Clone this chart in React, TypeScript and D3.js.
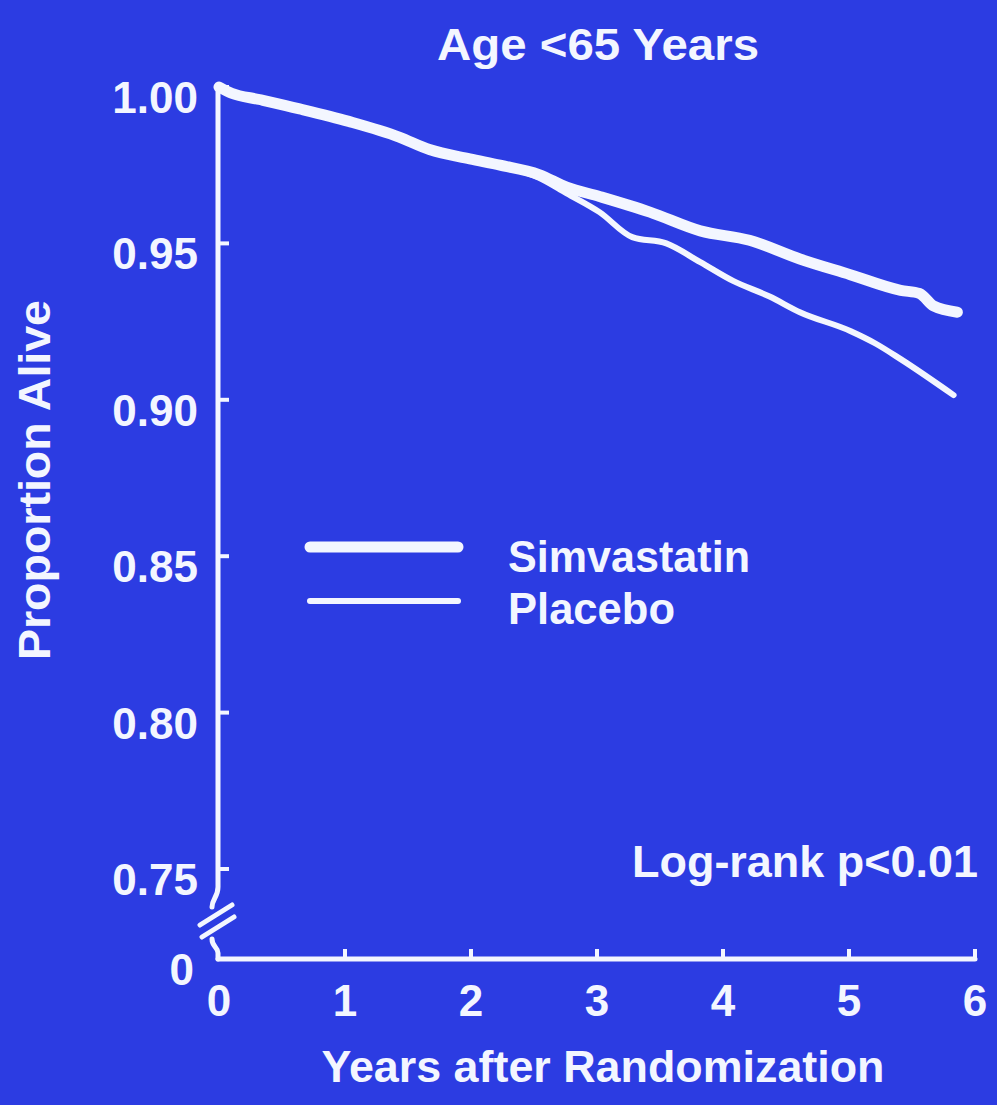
import * as d3 from "d3";
import React from "react";

const width = 997;
const height = 1105;

// Kaplan-Meier style readings (years, proportion alive)
const simvastatinYears = [0, 0.1, 0.32, 0.64, 1.03, 1.43, 1.67, 1.99, 2.23, 2.54, 2.76, 3.02, 3.42, 3.82, 4.21, 4.61, 5.01, 5.41, 5.56, 5.67, 5.86];
const simvastatinValues = [1.0, 0.998, 0.996, 0.993, 0.989, 0.984, 0.98, 0.977, 0.975, 0.972, 0.968, 0.965, 0.96, 0.954, 0.951, 0.945, 0.94, 0.935, 0.934, 0.93, 0.928];

const placeboYears = [0, 0.1, 0.32, 0.64, 1.03, 1.43, 1.67, 1.99, 2.23, 2.54, 2.76, 3.02, 3.28, 3.55, 3.82, 4.08, 4.37, 4.61, 5.01, 5.21, 5.41, 5.83];
const placeboValues = [1.0, 0.998, 0.996, 0.993, 0.989, 0.984, 0.98, 0.977, 0.975, 0.971, 0.966, 0.96, 0.952, 0.95, 0.944, 0.938, 0.933, 0.928, 0.922, 0.918, 0.913, 0.9015];

const yTicks = [1.0, 0.95, 0.9, 0.85, 0.8, 0.75];
const xTicks = [0, 1, 2, 3, 4, 5, 6];

const bg = "#2c3ce2";
const ink = "#f3f6ff";
const font = "'Liberation Sans', Arial, Helvetica, sans-serif";

function App() {
    const xScale = d3.scaleLinear().domain([0, 6]).range([219, 975]);
    // broken axis: 0 sits just under 0.75
    const yScale = d3.scaleLinear().domain([0, 0.75, 1.0]).range([959, 869, 87]);

    const lineBuilder = d3.line<[number, number]>()
        .x((d) => xScale(d[0]))
        .y((d) => yScale(d[1]))
        .curve(d3.curveMonotoneX);

    const simPath = lineBuilder(simvastatinYears.map((t, i) => [t, simvastatinValues[i]]));
    const plaPath = lineBuilder(placeboYears.map((t, i) => [t, placeboValues[i]]));

    const ax = xScale(0) - 1;
    const y0 = yScale(0);
    const y75 = yScale(0.75);

    const breakPath = [
        `M${ax},${yScale(1.0) - 2} L${ax},${y75 + 18}`,
        `C${ax},${y75 + 28} ${ax - 6},${y75 + 30} ${ax - 6},${y75 + 38}`,
        `M${ax - 18},${y75 + 56} L${ax + 14},${y75 + 36}`,
        `M${ax - 16},${y75 + 68} L${ax + 16},${y75 + 48}`,
        `M${ax - 6},${y75 + 70} C${ax - 6},${y75 + 78} ${ax},${y75 + 78} ${ax},${y75 + 84} L${ax},${y0}`,
    ].join(" ");

    return (
        <svg width={width} height={height} style={{ position: "absolute", left: 0, top: 0, background: bg }}>
            <rect x={0} y={0} width={width} height={height} fill={bg} />

            <text x={598} y={60} textAnchor="middle" fill={ink} fontFamily={font} fontWeight="bold" fontSize={44} textLength={322} lengthAdjust="spacingAndGlyphs">
                Age &lt;65 Years
            </text>

            {/* y axis */}
            <path d={breakPath} stroke={ink} strokeWidth={5} fill="none" strokeLinecap="round" />
            {yTicks.map((t) => (
                <g key={t}>
                    <line x1={ax} x2={ax + 11} y1={yScale(t)} y2={yScale(t)} stroke={ink} strokeWidth={4} />
                    <text x={198} y={yScale(t) + 26} textAnchor="end" fill={ink} fontFamily={font} fontWeight="bold" fontSize={44}>
                        {t.toFixed(2)}
                    </text>
                </g>
            ))}
            <text x={194} y={y0 + 26} textAnchor="end" fill={ink} fontFamily={font} fontWeight="bold" fontSize={44}>0</text>

            <text transform={`translate(50,480) rotate(-90)`} textAnchor="middle" fill={ink} fontFamily={font} fontWeight="bold" fontSize={44} textLength={360} lengthAdjust="spacingAndGlyphs">
                Proportion Alive
            </text>

            {/* x axis */}
            <line x1={ax} x2={xScale(6)} y1={y0} y2={y0} stroke={ink} strokeWidth={5} strokeLinecap="round" />
            {xTicks.map((t) => (
                <g key={t}>
                    {t > 0 && <line x1={xScale(t)} x2={xScale(t)} y1={y0} y2={y0 - 10} stroke={ink} strokeWidth={4} />}
                    <text x={xScale(t)} y={1016} textAnchor="middle" fill={ink} fontFamily={font} fontWeight="bold" fontSize={44}>
                        {t}
                    </text>
                </g>
            ))}
            <text x={603} y={1082} textAnchor="middle" fill={ink} fontFamily={font} fontWeight="bold" fontSize={44} textLength={563} lengthAdjust="spacingAndGlyphs">
                Years after Randomization
            </text>

            {/* survival curves */}
            <path d={plaPath || undefined} stroke={ink} strokeWidth={6} fill="none" strokeLinecap="round" strokeLinejoin="round" />
            <path d={simPath || undefined} stroke={ink} strokeWidth={11} fill="none" strokeLinecap="round" strokeLinejoin="round" />

            {/* legend */}
            <line x1={310} x2={458} y1={547} y2={547} stroke={ink} strokeWidth={11} strokeLinecap="round" />
            <line x1={310} x2={458} y1={601} y2={601} stroke={ink} strokeWidth={6} strokeLinecap="round" />
            <text x={508} y={572} fill={ink} fontFamily={font} fontWeight="bold" fontSize={44} textLength={242} lengthAdjust="spacingAndGlyphs">Simvastatin</text>
            <text x={508} y={624} fill={ink} fontFamily={font} fontWeight="bold" fontSize={44} textLength={167} lengthAdjust="spacingAndGlyphs">Placebo</text>

            <text x={632} y={877} fill={ink} fontFamily={font} fontWeight="bold" fontSize={44} textLength={346} lengthAdjust="spacingAndGlyphs">
                Log-rank p&lt;0.01
            </text>
        </svg>
    );
}

export default App;
